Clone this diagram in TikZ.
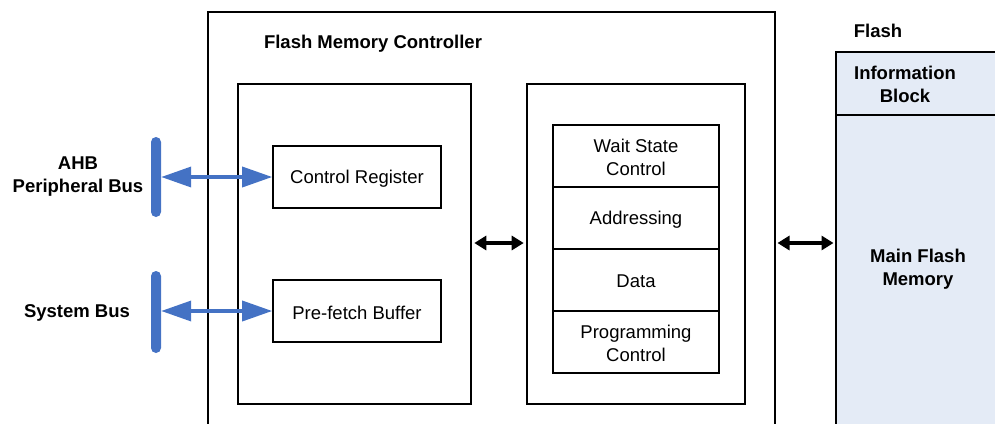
\documentclass[tikz,border=0pt]{standalone}
\usepackage{fontspec}
\setmainfont{Liberation Sans}
\usetikzlibrary{arrows.meta}
\definecolor{busblue}{HTML}{4472C4}
\definecolor{flashfill}{HTML}{E4EBF6}
\begin{document}
\begin{tikzpicture}[x=1pt,y=-1pt,
  txt/.style={font=\fontsize{18.5}{23}\selectfont, align=center, inner sep=0pt},
  btxt/.style={txt, font=\fontsize{18.5}{23}\selectfont\bfseries},
  blk/.style={draw=black, line width=1.6pt, inner sep=0pt},
  busbar/.style={fill=busblue, draw=none, rounded corners=5pt, minimum width=10pt, inner sep=0pt},
  bluearrow/.style={busblue, line width=3.5pt, {Triangle[length=30pt,width=20pt]}-{Triangle[length=30pt,width=20pt]}},
  blackarrow/.style={black, line width=3.5pt, {Triangle[length=12pt,width=14pt]}-{Triangle[length=12pt,width=14pt]}, shorten <=2.5pt, shorten >=2.5pt}
]
\useasboundingbox (0,0) rectangle (995,423);
% outer controller box (open bottom)
\draw[line width=2.2pt] (208,430) -- (208,12) -- (775,12) -- (775,430);
\node[btxt] (fmc) at (373,44) {Flash Memory Controller};
% inner boxes
\node[blk, minimum width=233pt, minimum height=320pt] (left) at (354.5,244) {};
\node[blk, minimum width=218pt, minimum height=320pt] (right) at (636,244) {};
% control register & prefetch
\node[blk, minimum width=168pt, minimum height=62pt] (creg) at (357,177) {};
\node[txt] (cregt) at (357,178.5) {Control Register};
\node[blk, minimum width=168pt, minimum height=62pt] (pfb) at (357,311) {};
\node[txt] (pfbt) at (357,312.5) {Pre-fetch Buffer};
% stack
\node[blk, minimum width=166pt, minimum height=62pt] (wsc) at (636,156) {};
\node[blk, minimum width=166pt, minimum height=62pt] (addr) at (636,218) {};
\node[blk, minimum width=166pt, minimum height=62pt] (data) at (636,280) {};
\node[blk, minimum width=166pt, minimum height=62pt] (prog) at (636,342) {};
\node[txt] (wsct) at (636,157) {Wait State\\Control};
\node[txt] (addrt) at (636,219.5) {Addressing};
\node[txt] (datat) at (636,281.5) {Data};
\node[txt] (progt) at (636,343) {Programming\\Control};
% buses
\node[busbar, minimum height=80pt] (ahbbar) at (156,177) {};
\node[busbar, minimum height=82pt] (sysbar) at (156,312) {};
\node[btxt] (ahb) at (78,177) {AHB\\Peripheral Bus};
\node[btxt] (sys) at (77,313) {System Bus};
\draw[bluearrow] (ahbbar.east |- creg.west) -- (creg.west);
\draw[bluearrow] (sysbar.east |- pfb.west) -- (pfb.west);
% flash
\fill[flashfill] (836,52) rectangle (1000,430);
\coordinate (flTL) at (836,52);
\draw[line width=2.2pt] (836,430) -- (flTL) -- (1000,52);
\draw[line width=2.2pt] (836,115) -- (1000,115);
\node[btxt] (flash) at (878,31) {Flash};
\node[btxt] (info) at (905,84) {Information\\Block};
\node[btxt] (main) at (918,269) {Main Flash\\Memory};
\coordinate (flL) at (836,243);
% black arrows
\draw[blackarrow] (left.east |- 0,243) -- (right.west |- 0,243);
\draw[blackarrow] (775,243) -- (flL);
\end{tikzpicture}
\end{document}
